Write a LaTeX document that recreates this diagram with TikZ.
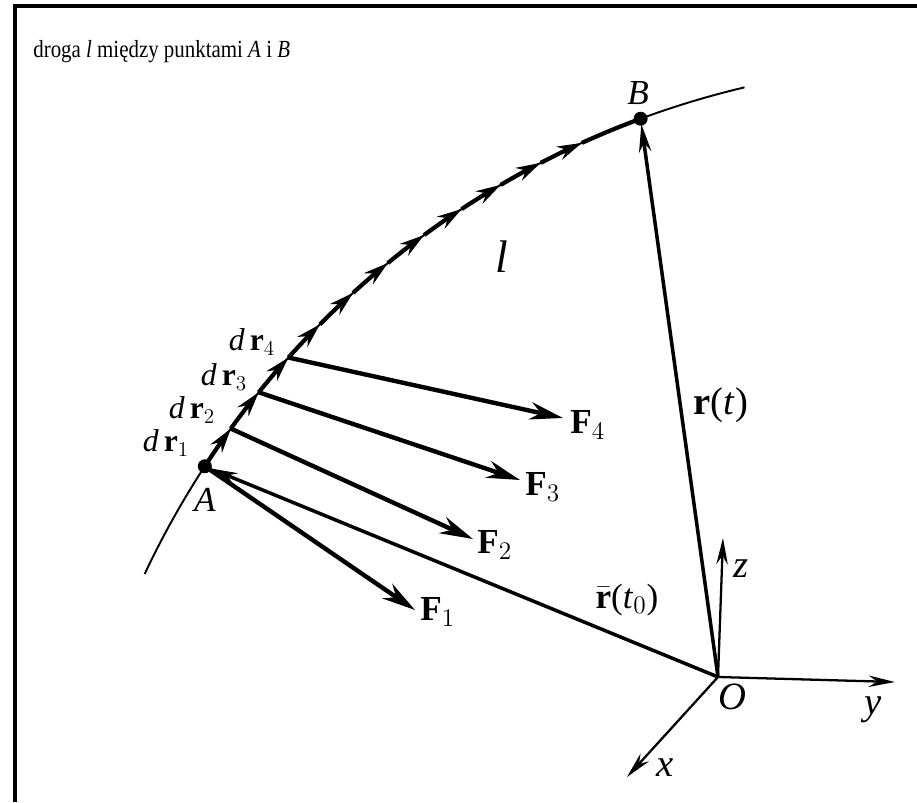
\documentclass[tikz,border=0pt]{standalone}
\usepackage{graphicx}
\usepackage{fontspec}
\setmainfont{Liberation Serif}
\usetikzlibrary{arrows.meta}

\begin{document}
\begin{tikzpicture}[x=0.02cm, y=0.02cm,
  >={Stealth[length=14pt,width=8pt]},
  path line/.style={line width=2.4pt},
  force/.style={line width=2.5pt, -{Stealth[length=19pt,width=10pt]}},
  radius vec/.style={line width=2pt, -{Stealth[length=16pt,width=7pt]}, shorten >=3pt},
  axis/.style={line width=1.3pt, -{Stealth[length=15pt,width=6.5pt]}},
  lbl/.style={inner sep=0pt, font=\fontsize{20}{24}\selectfont}]
  \useasboundingbox (0,0) rectangle (917,802);
  \draw[line width=2.3pt] (15,0) |- (917,796);
  \node[anchor=base west, inner sep=0pt, font=\fontsize{14}{17}\selectfont] (title) at (33,744)
    {\scalebox{0.85}[1]{droga \textit{l} między punktami \textit{A} i \textit{B}}};
  % the path l (a circle arc)
  \coordinate (C) at (949,-150.5);
  \draw[line width=1.1pt] (C) ++(154.8:889) arc[start angle=154.8, end angle=103.3, radius=889];
  \foreach \k in {0,...,11} {
    \pgfmathsetmacro\ang{146.84-2.95*\k}
    \path (C) ++(\ang:889) coordinate (P\k);
  }
  \path (C) ++(110.3:889) coordinate (B);
  \foreach \k in {1,...,11} {
    \pgfmathsetmacro\angA{146.84-2.95*(\k-1)}
    \pgfmathsetmacro\angB{146.84-2.95*\k}
    \draw[path line, ->] (C) ++(\angA:889) arc[start angle=\angA, end angle=\angB, radius=889];
  }
  \draw[path line] (P11) arc[start angle=114.39, end angle=110.3, radius=889];
  \fill (P0) circle[radius=7];
  \fill (B) circle[radius=7];
  % forces
  \coordinate (F1) at (415,192);
  \coordinate (F2) at (473,263);
  \coordinate (F3) at (520,322);
  \coordinate (F4) at (563,384);
  \draw[force] (P0) -- (F1);
  \draw[force] (P1) -- (F2);
  \draw[force] (P2) -- (F3);
  \draw[force] (P3) -- (F4);
  % radius vectors and axes
  \coordinate (O) at (718,125);
  \draw[radius vec] (O) -- (B);
  \draw[radius vec] (O) -- (P0);
  \coordinate (z) at (723,264);
  \coordinate (y) at (895,120);
  \coordinate (x) at (627,25);
  \draw[axis] (O) -- (z);
  \draw[axis] (O) -- (y);
  \draw[axis] (O) -- (x);
  % labels
  \node[lbl] (lA) at (205,302) {\textit{A}};
  \node[lbl] (lB) at (638,709) {\textit{B}};
  \node[lbl, font=\fontsize{26}{30}\selectfont] (ll) at (502,545) {\textit{l}};
  \node[lbl, font=\fontsize{18}{21}\selectfont] (dr1) at (166,359) {\textit{d}\,$\mathbf{r}_1$};
  \node[lbl, font=\fontsize{18}{21}\selectfont] (dr2) at (192,392) {\textit{d}\,$\mathbf{r}_2$};
  \node[lbl, font=\fontsize{18}{21}\selectfont] (dr3) at (224,425) {\textit{d}\,$\mathbf{r}_3$};
  \node[lbl, font=\fontsize{18}{21}\selectfont] (dr4) at (252,460) {\textit{d}\,$\mathbf{r}_4$};
  \node[lbl, anchor=west] (lF1) at (420,190) {$\mathbf{F}_1$};
  \node[lbl, anchor=west] (lF2) at (477,257) {$\mathbf{F}_2$};
  \node[lbl, anchor=west] (lF3) at (525,315) {$\mathbf{F}_3$};
  \node[lbl, anchor=west] (lF4) at (570,377) {$\mathbf{F}_4$};
  \node[lbl, font=\fontsize{22}{26}\selectfont] (lr) at (721,397) {$\mathbf{r}$(\textit{t})};
  \node[lbl] (lr0) at (627,202) {$\bar{\mathbf{r}}$(\textit{t}$_0$)};
  \node[lbl, font=\fontsize{22}{26}\selectfont] (lO) at (732,105) {\textit{O}};
  \node[lbl, font=\fontsize{22}{26}\selectfont] (lz) at (741,233) {\textit{z}};
  \node[lbl, font=\fontsize{22}{26}\selectfont] (ly) at (873,92) {\textit{y}};
  \node[lbl, font=\fontsize{22}{26}\selectfont] (lx) at (665,34) {\textit{x}};
\end{tikzpicture}
\end{document}
